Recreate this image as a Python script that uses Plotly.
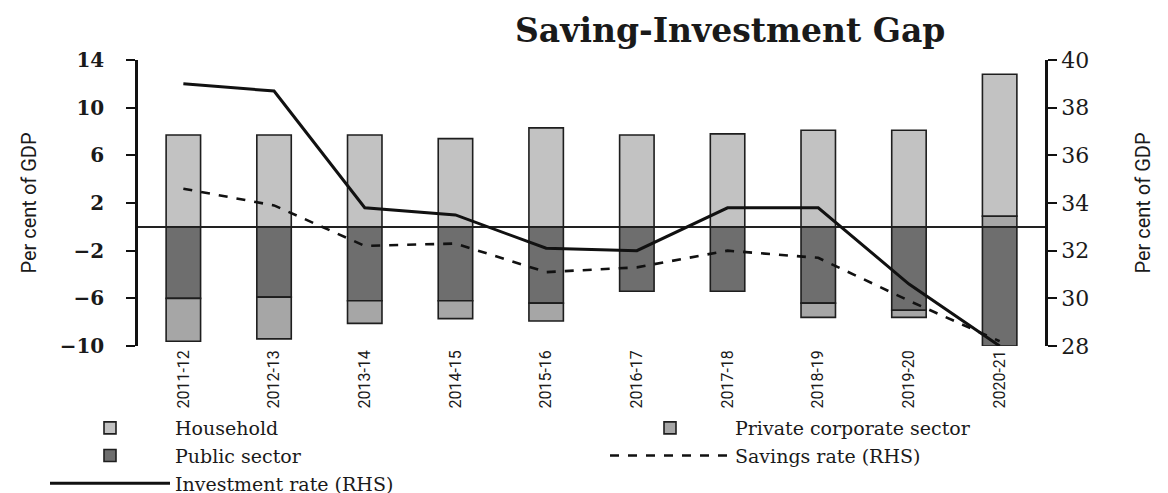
import plotly.graph_objects as go

years = ["2011-12", "2012-13", "2013-14", "2014-15", "2015-16",
         "2016-17", "2017-18", "2018-19", "2019-20", "2020-21"]
household = [7.7, 7.7, 7.7, 7.4, 8.3, 7.7, 7.8, 8.1, 8.1, 11.9]
private_corporate = [-3.6, -3.5, -1.9, -1.5, -1.5, 0.0, 0.0, -1.2, -0.6, 0.9]
public_sector = [-6.0, -5.9, -6.2, -6.2, -6.4, -5.4, -5.4, -6.4, -7.0, -10.0]
savings_rate = [34.6, 33.9, 32.2, 32.3, 31.1, 31.3, 32.0, 31.7, 29.9, 28.2]
investment_rate = [39.0, 38.7, 33.8, 33.5, 32.1, 32.0, 33.8, 33.8, 30.6, 28.0]

left_ticks = [-10, -6, -2, 2, 6, 10, 14]
right_ticks = [28, 30, 32, 34, 36, 38, 40]

ink = "#1a1a1a"
serif = "DejaVu Serif, serif"
narrow = "Roboto, Liberation Sans, sans-serif"
legend_font = dict(family=serif, size=19, color=ink)

fig = go.Figure()
bar_line = dict(color="#1e1e1e", width=1.6)
fig.add_trace(go.Bar(x=years, y=public_sector, name="Public sector",
                     marker=dict(color="#6e6e6e", line=bar_line),
                     legend="legend", legendrank=2))
fig.add_trace(go.Bar(x=years, y=private_corporate, name="Private corporate sector",
                     marker=dict(color="#a6a6a6", line=bar_line),
                     legend="legend2", legendrank=1))
fig.add_trace(go.Bar(x=years, y=household, name="Household",
                     marker=dict(color="#c2c2c2", line=bar_line),
                     legend="legend", legendrank=1))
fig.add_trace(go.Scatter(x=years, y=savings_rate, name="Savings rate (RHS)", yaxis="y2",
                         mode="lines", line=dict(color="#111", width=2.6, dash="dash"),
                         legend="legend2", legendrank=2))
fig.add_trace(go.Scatter(x=years, y=investment_rate, name="Investment rate (RHS)", yaxis="y2",
                         mode="lines", line=dict(color="#111", width=3),
                         legend="legend", legendrank=3))

leg_common = dict(orientation="v", yanchor="top", xanchor="left", font=legend_font,
                  traceorder="normal", itemwidth=120, tracegroupgap=0,
                  bgcolor="rgba(0,0,0,0)", borderwidth=0)

fig.update_layout(
    width=1168, height=493,
    margin=dict(l=130, r=131, t=52, b=155, autoexpand=False),
    paper_bgcolor="white", plot_bgcolor="white",
    barmode="relative", bargap=0.62,
    showlegend=True,
    legend=dict(x=(37 - 130) / 907, y=(338 - 401) / 286, **leg_common),
    legend2=dict(x=(597 - 130) / 907, y=(338 - 401) / 286, **leg_common),
    xaxis=dict(type="category", tickangle=-90, showline=False, ticks="",
               showgrid=False, tickfont=dict(family=narrow, size=16, color=ink)),
    yaxis=dict(range=[-10, 14], tickvals=left_ticks, showgrid=False,
               showline=True, linecolor="#111", linewidth=2.5,
               ticks="outside", ticklen=9, tickwidth=2, tickcolor="#111",
               ticklabelstandoff=18,
               zeroline=True, zerolinecolor="#222", zerolinewidth=1.5,
               tickfont=dict(family=serif, size=20, color=ink, weight="bold"),
               title=dict(text="Per cent of GDP", standoff=18,
                          font=dict(family=narrow, size=20, color=ink))),
    yaxis2=dict(range=[28, 40], tickvals=right_ticks, overlaying="y", side="right",
                showgrid=False, showline=True, linecolor="#111", linewidth=2.5,
                ticks="outside", ticklen=9, tickwidth=2, tickcolor="#111",
                ticklabelstandoff=0, zeroline=False,
                tickfont=dict(family=serif, size=22, color=ink),
                title=dict(text="Per cent of GDP", standoff=48,
                           font=dict(family=narrow, size=20, color=ink))),
    annotations=[dict(text="<b>Saving-Investment Gap</b>", xref="paper", yref="paper",
                      x=(722 - 130) / 907, y=1.0, yshift=30, xanchor="center",
                      yanchor="middle", showarrow=False,
                      font=dict(family=serif, size=33, color=ink))],
)

fig.write_html("out.html")
